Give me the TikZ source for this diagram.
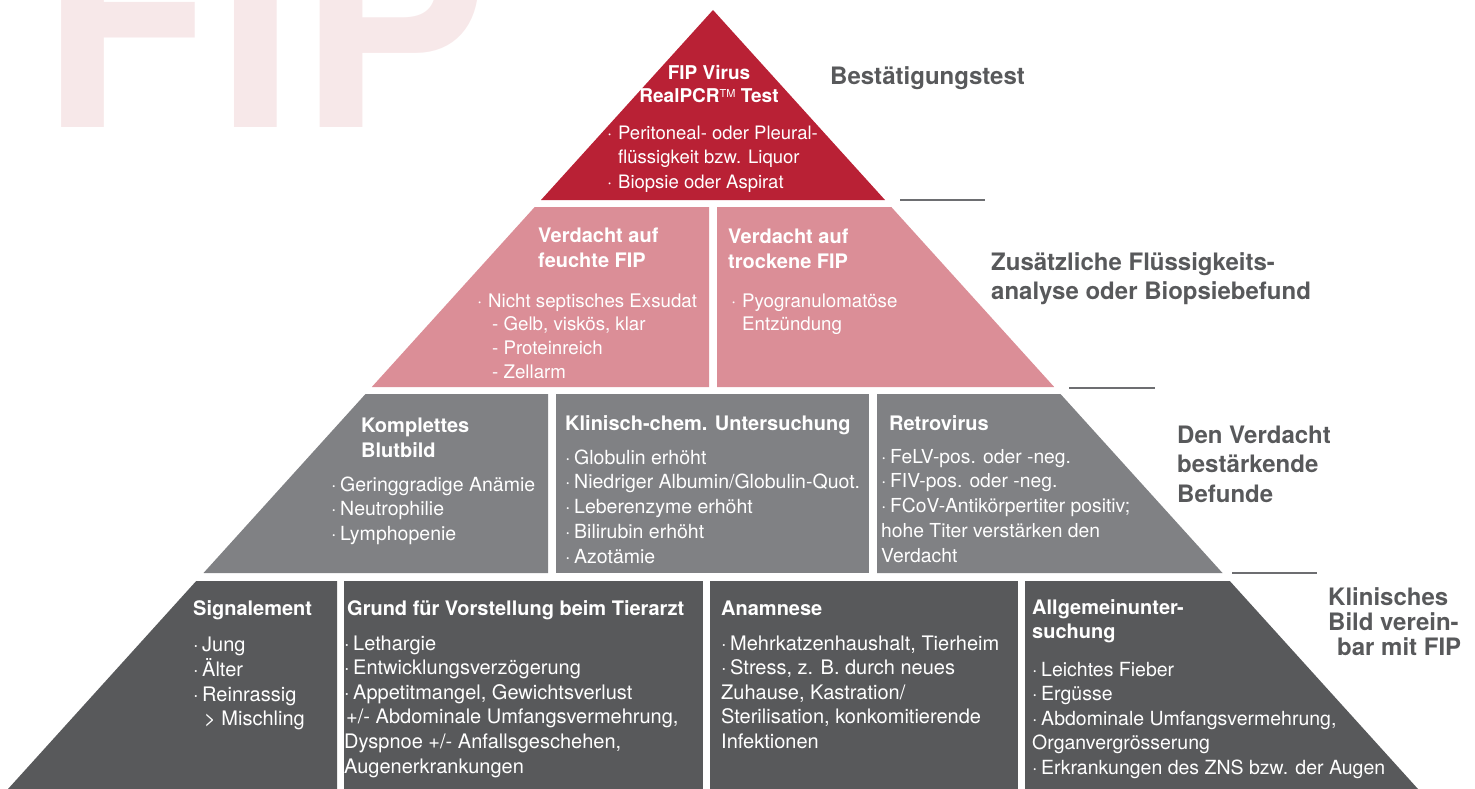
\documentclass[tikz,border=0pt]{standalone}
\usepackage{fontspec}
\setmainfont{TeX Gyre Heros}
\definecolor{tred}{HTML}{B92135}
\definecolor{tpink}{HTML}{DB8E97}
\definecolor{tgray}{HTML}{808184}
\definecolor{tdark}{HTML}{58595B}
\definecolor{lab}{HTML}{58595B}
\definecolor{wmark}{HTML}{F7E8E9}
\definecolor{sepc}{HTML}{6D6E71}
\newcommand\bul{\makebox[9pt][l]{·}}
\newcommand\bulw{\makebox[11pt][l]{·}}
\newcommand\lns[1]{\begin{tabular}[t]{@{}l@{}}#1\end{tabular}}
\newcommand\clns[1]{\begin{tabular}[t]{@{}c@{}}#1\end{tabular}}
\tikzset{
  body/.style={anchor=base west, inner sep=0, text=white, font=\fontsize{19.5}{24.6}\selectfont},
  ttl/.style={anchor=base west, inner sep=0, text=white, font=\bfseries\fontsize{20}{25}\selectfont},
  lbl/.style={anchor=base west, inner sep=0, text=lab, font=\bfseries\fontsize{24}{29.5}\selectfont},
  sepline/.style={draw=sepc, line width=1.4pt},
}
\begin{document}
\begin{tikzpicture}[x=1pt,y=-1pt]
\useasboundingbox (0,0) rectangle (1475,789);
\begin{scope}
\clip (0,0) rectangle (1475,789);
\node[anchor=base west, inner sep=0, text=wmark, font=\bfseries\fontsize{285}{285}\selectfont] (wm) at (40,128) {F\kern2ptI\kern3ptP};
\end{scope}

% tier 1
\fill[tred] (713,10) -- (885,200) -- (541,200) -- cycle;
% tier 2
\fill[tpink] (534.7,207) -- (709,207) -- (709,387) -- (371.8,387) -- cycle;
\fill[tpink] (717,207) -- (891.3,207) -- (1054.2,387) -- (717,387) -- cycle;
% tier 3
\fill[tgray] (365.5,394) -- (548,394) -- (548,573) -- (203.5,573) -- cycle;
\fill[tgray] (556,394) rectangle (869,573);
\fill[tgray] (877,394) -- (1060.5,394) -- (1222.5,573) -- (877,573) -- cycle;
% tier 4
\fill[tdark] (196.2,581) -- (337,581) -- (337,789) -- (8,789) -- cycle;
\fill[tdark] (344,581) rectangle (703,789);
\fill[tdark] (710,581) rectangle (1018,789);
\fill[tdark] (1025,581) -- (1229.8,581) -- (1418,789) -- (1025,789) -- cycle;

% separator lines
\coordinate (s1a) at (900,200); \coordinate (s1b) at (985,200);
\coordinate (s2a) at (1069,388); \coordinate (s2b) at (1155,388);
\coordinate (s3a) at (1232,573); \coordinate (s3b) at (1317,573);
\draw[sepline] (s1a) -- (s1b);
\draw[sepline] (s2a) -- (s2b);
\draw[sepline] (s3a) -- (s3b);

% tier 1 text
\node[ttl, anchor=base, font=\bfseries\fontsize{19}{23}\selectfont] (t1) at (709,80) {\clns{FIP Virus\\RealPCR{\mdseries\fontsize{11}{11}\selectfont\raisebox{5pt}{TM}} Test}};
\node[body, font=\fontsize{18.5}{24}\selectfont] (b1) at (607,140) {\lns{\bulw Peritoneal- oder Pleural-\\\hspace*{11pt}flüssigkeit bzw. Liquor\\\bulw Biopsie oder Aspirat}};

% tier 2 text
\node[ttl] (t2a) at (538,242) {\lns{Verdacht auf\\feuchte FIP}};
\node[body, font=\fontsize{18.7}{23.7}\selectfont] (b2a) at (477,307) {\lns{\bulw Nicht septisches Exsudat\\\hspace*{15pt}- Gelb, viskös, klar\\\hspace*{15pt}- Proteinreich\\\hspace*{15pt}- Zellarm}};
\node[ttl] (t2b) at (728,243) {\lns{Verdacht auf\\trockene FIP}};
\node[body, font=\fontsize{18.7}{23.7}\selectfont] (b2b) at (731,307) {\lns{\bulw Pyogranulomatöse\\\hspace*{11pt}Entzündung}};

% tier 3 text
\node[ttl] (t3a) at (361,432) {\lns{Komplettes\\Blutbild}};
\node[body] (b3a) at (331,491) {\lns{\bul Geringgradige Anämie\\\bul Neutrophilie\\\bul Lymphopenie}};
\node[ttl] (t3b) at (565,430) {Klinisch-chem. Untersuchung};
\node[body, font=\fontsize{19.5}{24.75}\selectfont] (b3b) at (565,464) {\lns{\bul Globulin erhöht\\\bul Niedriger Albumin/Globulin-Quot.\\\bul Leberenzyme erhöht\\\bul Bilirubin erhöht\\\bul Azotämie}};
\node[ttl] (t3c) at (889,430) {Retrovirus};
\node[body, font=\fontsize{19.3}{24.75}\selectfont] (b3c) at (881,463) {\lns{\bul FeLV-pos. oder -neg.\\\bul FIV-pos. oder -neg.\\\bul FCoV-Antikörpertiter positiv;\\hohe Titer verstärken den\\Verdacht}};

% tier 4 text
\node[ttl] (t4a) at (193,615) {Signalement};
\node[body, font=\fontsize{20}{24.6}\selectfont] (b4a) at (193,651) {\lns{\bul Jung\\\bul Älter\\\bul Reinrassig\\\hspace*{11pt}> Mischling}};
\node[ttl] (t4b) at (347,615) {Grund für Vorstellung beim Tierarzt};
\node[body, font=\fontsize{20}{24.6}\selectfont] (b4b) at (344,650) {\lns{\bul Lethargie\\\bul Entwicklungsverzögerung\\\bul Appetitmangel, Gewichtsverlust\\\hspace*{2pt}+/- Abdominale Umfangsvermehrung,\\Dyspnoe +/- Anfallsgeschehen,\\Augenerkrankungen}};
\node[ttl] (t4c) at (721,615) {Anamnese};
\node[body, font=\fontsize{20}{24.6}\selectfont] (b4c) at (721,650) {\lns{\bul Mehrkatzenhaushalt, Tierheim\\\bul Stress, z. B. durch neues\\Zuhause, Kastration/\\Sterilisation, konkomitierende\\Infektionen}};
\node[ttl, font=\bfseries\fontsize{20}{24.5}\selectfont] (t4d) at (1032,614) {\lns{Allgemeinunter-\\suchung}};
\node[body, font=\fontsize{19.5}{24.6}\selectfont] (b4d) at (1032,676) {\lns{\bul Leichtes Fieber\\\bul Ergüsse\\\bul Abdominale Umfangsvermehrung,\\Organvergrösserung\\\bul Erkrankungen des ZNS bzw. der Augen}};

% right labels
\node[lbl] (l1) at (830,85) {Bestätigungstest};
\node[lbl] (l2) at (991,270) {\lns{Zusätzliche Flüssigkeits-\\analyse oder Biopsiebefund}};
\node[lbl] (l3) at (1177,443) {\lns{Den Verdacht\\bestärkende\\Befunde}};
\node[lbl, font=\bfseries\fontsize{24}{25}\selectfont] (l4) at (1328,605) {\lns{Klinisches\\Bild verein-\\\hspace*{9pt}bar mit FIP}};
\end{tikzpicture}
\end{document}
